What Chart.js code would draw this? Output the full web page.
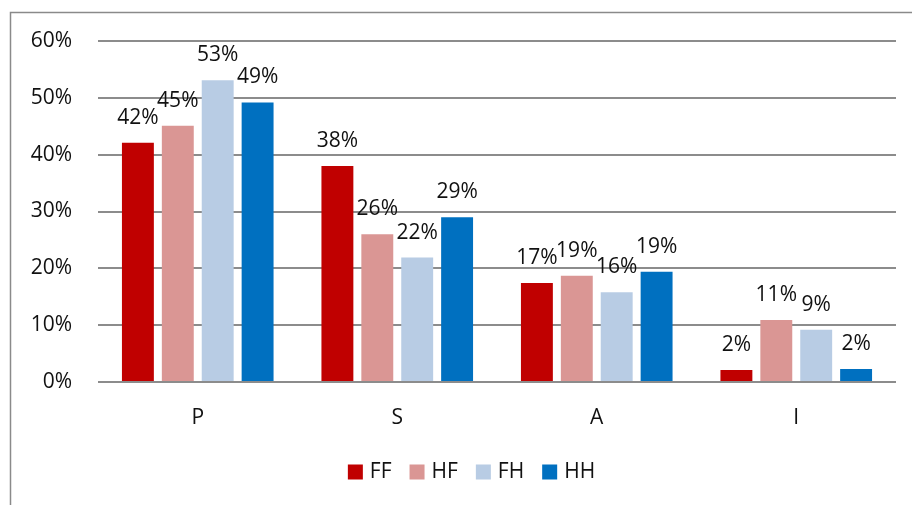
<!DOCTYPE html>
<html>
<head>
<meta charset="utf-8">
<script src="https://cdn.jsdelivr.net/npm/chart.js@4.4.0/dist/chart.umd.min.js"></script>
<style>
    html, body { margin: 0; padding: 0; background: #fff; overflow: hidden; }
    #wrap { position: relative; width: 912px; height: 505px; }
</style>
</head>
<body>
<div id="wrap"><canvas id="grafico" width="912" height="505"></canvas></div>
<script>
// datos
var categorias = ["P", "S", "A", "I"];
var serieFF = [42.1, 38.0, 17.4, 2.1];
var serieHF = [45.1, 26.0, 18.7, 10.9];
var serieFH = [53.1, 21.9, 15.8, 9.2];
var serieHH = [49.2, 29.0, 19.4, 2.3];
var ticksY = [0, 10, 20, 30, 40, 50, 60];

var fuente = "'Open Sans', 'Liberation Sans', sans-serif";

// marco gris del grafico (esquina superior izquierda)
var marco = {
    id: "marco",
    beforeDraw: function (chart) {
        var ctx = chart.ctx;
        ctx.save();
        ctx.strokeStyle = "#8a8a8a";
        ctx.lineWidth = 1.5;
        ctx.strokeRect(10.5, 12.5, 1200, 1200);
        ctx.restore();
    }
};

// etiquetas de porcentaje sobre cada barra
var etiquetas = {
    id: "etiquetas",
    afterDatasetsDraw: function (chart) {
        var ctx = chart.ctx;
        ctx.save();
        ctx.font = "21px " + fuente;
        ctx.fillStyle = "#111";
        ctx.textAlign = "center";
        ctx.textBaseline = "middle";
        chart.data.datasets.forEach(function (ds, i) {
            var meta = chart.getDatasetMeta(i);
            meta.data.forEach(function (bar, j) {
                ctx.fillText(Math.round(ds.data[j]) + "%", bar.x, bar.y - 25);
            });
        });
        ctx.restore();
    }
};

// leyenda abajo, centrada como en el original
var leyenda = {
    id: "leyenda",
    afterDraw: function (chart) {
        var ctx = chart.ctx;
        var items = chart.data.datasets;
        var caja = 15, sep = 7, hueco = 18, y = 472;
        ctx.save();
        ctx.font = "21px " + fuente;
        ctx.textBaseline = "middle";
        var total = 0;
        items.forEach(function (ds, i) {
            total += caja + sep + ctx.measureText(ds.label).width;
            if (i < items.length - 1) total += hueco;
        });
        var x = 471.5 - total / 2;
        items.forEach(function (ds) {
            ctx.fillStyle = ds.backgroundColor;
            ctx.fillRect(x, y - caja / 2, caja, caja);
            x += caja + sep;
            ctx.fillStyle = "#111";
            ctx.fillText(ds.label, x, y);
            x += ctx.measureText(ds.label).width + hueco;
        });
        ctx.restore();
    }
};

var ctx = document.getElementById("grafico").getContext("2d");
new Chart(ctx, {
    type: "bar",
    data: {
        labels: categorias,
        datasets: [
            { label: "FF", data: serieFF, backgroundColor: "#C00000" },
            { label: "HF", data: serieHF, backgroundColor: "#DA9694" },
            { label: "FH", data: serieFH, backgroundColor: "#B8CCE4" },
            { label: "HH", data: serieHH, backgroundColor: "#0070C0" }
        ]
    },
    options: {
        responsive: false,
        animation: false,
        devicePixelRatio: 1,
        categoryPercentage: 0.8,
        barPercentage: 0.8,
        layout: {
            padding: { left: 0, right: 16, top: 41, bottom: 0 }
        },
        scales: {
            x: {
                grid: { display: false },
                border: { display: false },
                afterFit: function (scale) {
                    scale.height = 123;
                },
                ticks: {
                    color: "#111",
                    padding: 15,
                    font: { family: fuente, size: 21 }
                }
            },
            y: {
                min: 0,
                max: 60,
                afterBuildTicks: function (scale) {
                    scale.ticks = ticksY.map(function (v) { return { value: v }; });
                },
                afterFit: function (scale) {
                    scale.width = 98;
                },
                grid: {
                    color: "#8c8c8c",
                    lineWidth: 2,
                    drawTicks: false
                },
                border: { display: false },
                ticks: {
                    color: "#111",
                    padding: 26,
                    font: { family: fuente, size: 21 },
                    callback: function (v) { return v + "%"; }
                }
            }
        },
        plugins: {
            legend: { display: false },
            tooltip: { enabled: false }
        }
    },
    plugins: [marco, etiquetas, leyenda]
});
</script>
</body>
</html>
